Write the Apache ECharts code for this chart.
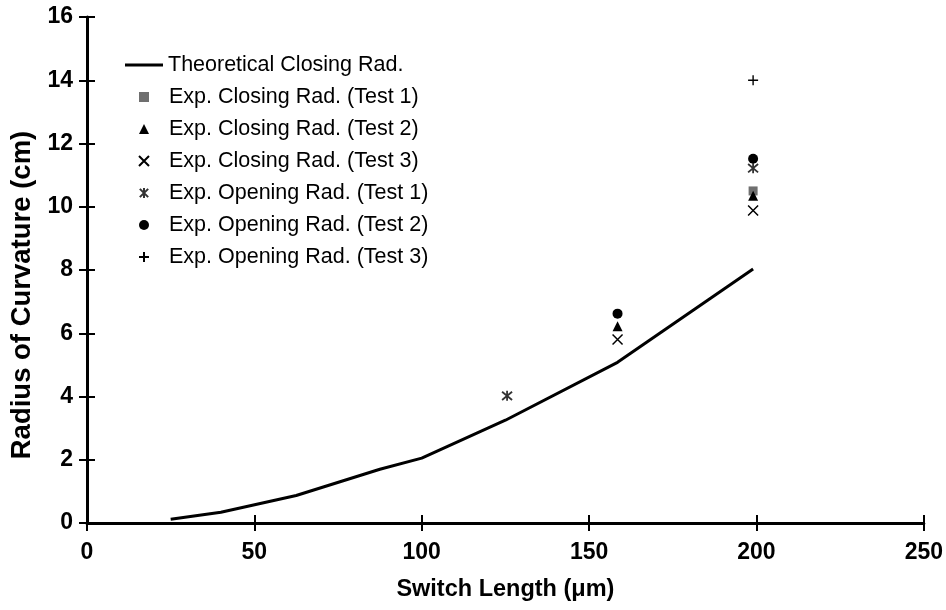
<!DOCTYPE html>
<html>
<head>
<meta charset="utf-8">
<script src="https://cdn.jsdelivr.net/npm/echarts@6/dist/echarts.min.js"></script>
<style>html,body{margin:0;padding:0;background:#fff;}#c{width:946px;height:610px;}</style>
</head>
<body>
<div id="c"></div>
<script>
// Data
const theoreticalX = [25, 40, 62.5, 87.5, 100, 125, 158.5, 199];
const theoreticalY = [0.12, 0.34, 0.87, 1.7, 2.05, 3.25, 5.08, 8.03];

const closing1 = [[199, 10.5]];
const closing2 = [[158.5, 6.22], [199, 10.35]];
const closing3 = [[158.5, 5.8], [199, 9.88]];
const opening1 = [[125.5, 4.02], [199, 11.22]];
const opening2 = [[158.5, 6.62], [199, 11.52]];
const opening3 = [[199, 14.0]];

const seriesNames = [
  'Theoretical Closing Rad.',
  'Exp. Closing Rad. (Test 1)',
  'Exp. Closing Rad. (Test 2)',
  'Exp. Closing Rad. (Test 3)',
  'Exp. Opening Rad. (Test 1)',
  'Exp. Opening Rad. (Test 2)',
  'Exp. Opening Rad. (Test 3)'
];
const xTitle = 'Switch Length (μm)';
const yTitle = 'Radius of Curvature (cm)';

const FONT = '"Liberation Sans", Arial, sans-serif';
const chart = echarts.init(document.getElementById('c'), null, {renderer: 'canvas'});

const X_PATH = 'path://M0,0L10,10M10,0L0,10';
const STAR_PATH = 'path://M0,0L10,10M10,0L0,10M5,-1L5,11';
const PLUS_PATH = 'path://M5,0L5,10M0,5L10,5';

const axisCommonX = {type: 'value', min: 0, max: 250, interval: 50, splitLine: {show: false}};
const axisCommonY = {type: 'value', min: 0, max: 16, interval: 2, splitLine: {show: false}};

const option = {
  backgroundColor: '#fff',
  animation: false,
  grid: {left: 87, right: 22, top: 17, bottom: 87},
  xAxis: [
    Object.assign({}, axisCommonX, {
      position: 'bottom',
      name: xTitle, nameLocation: 'middle', nameGap: 55,
      nameTextStyle: {fontFamily: FONT, fontSize: 23.5, fontWeight: 'bold', color: '#000'},
      axisLine: {show: true, onZero: false, lineStyle: {color: '#000', width: 3}},
      axisTick: {show: true, inside: false, length: 8, lineStyle: {color: '#000', width: 2}},
      axisLabel: {margin: 18, fontFamily: FONT, fontSize: 23, fontWeight: 'bold', color: '#000'}
    }),
    Object.assign({}, axisCommonX, {
      position: 'bottom',
      axisLine: {show: false},
      axisTick: {show: true, inside: true, length: 8, lineStyle: {color: '#000', width: 2}},
      axisLabel: {show: false}
    })
  ],
  yAxis: [
    Object.assign({}, axisCommonY, {
      position: 'left',
      name: yTitle, nameLocation: 'middle', nameGap: 51, nameRotate: 90,
      nameTextStyle: {fontFamily: FONT, fontSize: 27.5, fontWeight: 'bold', color: '#000', padding: [0, 50, 0, 0]},
      axisLine: {show: true, onZero: false, lineStyle: {color: '#000', width: 3}},
      axisTick: {show: true, inside: false, length: 8, lineStyle: {color: '#000', width: 2}},
      axisLabel: {margin: 14, fontFamily: FONT, fontSize: 23, fontWeight: 'bold', color: '#000'}
    }),
    Object.assign({}, axisCommonY, {
      position: 'left',
      axisLine: {show: false},
      axisTick: {show: true, inside: true, length: 8, lineStyle: {color: '#000', width: 2}},
      axisLabel: {show: false}
    })
  ],
  legend: [
    {
      data: [{name: seriesNames[0], icon: 'rect', itemStyle: {color: '#000'}}],
      orient: 'vertical', left: 125, top: 54, padding: 0,
      itemWidth: 38, itemHeight: 3,
      textStyle: {fontFamily: FONT, fontSize: 21.5, color: '#000', lineHeight: 22}
    },
    {
      data: seriesNames.slice(1),
      orient: 'vertical', left: 138, top: 86, padding: 0,
      itemWidth: 10, itemHeight: 10, itemGap: 10,
      textStyle: {fontFamily: FONT, fontSize: 21.5, color: '#000', lineHeight: 22, padding: [0, 0, 0, 15]}
    }
  ],
  series: [
    {
      name: seriesNames[0], type: 'line',
      data: theoreticalX.map((x, i) => [x, theoreticalY[i]]),
      symbol: 'none', smooth: false,
      lineStyle: {color: '#000', width: 3},
      itemStyle: {color: '#000'}
    },
    {
      name: seriesNames[1], type: 'scatter', data: closing1,
      symbol: 'rect', symbolSize: 9,
      itemStyle: {color: '#6f6f6f', opacity: 1}
    },
    {
      name: seriesNames[2], type: 'scatter', data: closing2,
      symbol: 'triangle', symbolSize: 10,
      itemStyle: {color: '#000', opacity: 1}
    },
    {
      name: seriesNames[3], type: 'scatter', data: closing3,
      symbol: X_PATH, symbolSize: 10,
      itemStyle: {color: 'rgba(0,0,0,0)', borderColor: '#000', borderWidth: 1.5, opacity: 1}
    },
    {
      name: seriesNames[4], type: 'scatter', data: opening1,
      symbol: STAR_PATH, symbolSize: 10,
      itemStyle: {color: 'rgba(0,0,0,0)', borderColor: '#333', borderWidth: 1.8, opacity: 1}
    },
    {
      name: seriesNames[5], type: 'scatter', data: opening2,
      symbol: 'circle', symbolSize: 10,
      itemStyle: {color: '#000', opacity: 1}
    },
    {
      name: seriesNames[6], type: 'scatter', data: opening3,
      symbol: PLUS_PATH, symbolSize: 10,
      itemStyle: {color: 'rgba(0,0,0,0)', borderColor: '#000', borderWidth: 1.4, opacity: 1}
    }
  ]
};
chart.setOption(option);
</script>
</body>
</html>
